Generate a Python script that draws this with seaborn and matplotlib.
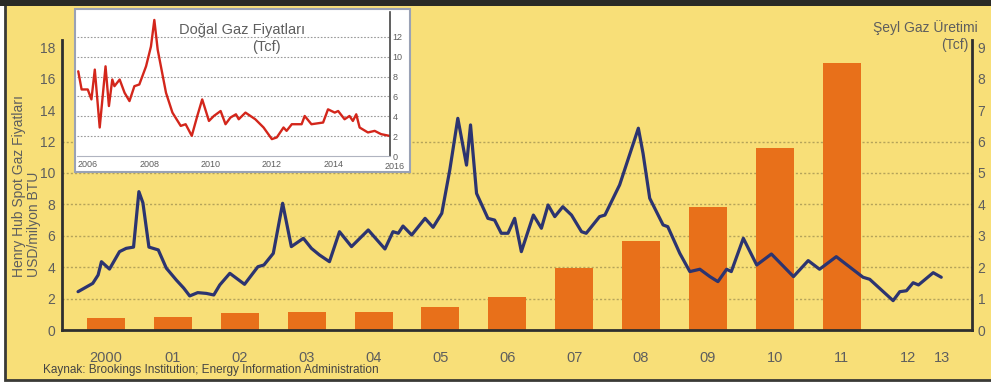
import matplotlib
matplotlib.use('Agg')
import matplotlib.pyplot as plt
from matplotlib.patches import Rectangle
import pandas as pd
import seaborn as sns

# Henry Hub spot fiyatı (USD/milyon BTU) - grafikten okunan noktalar
hh_yil = [2000.08, 2000.30, 2000.38, 2000.43, 2000.55, 2000.70, 2000.80, 2000.91, 2000.99, 2001.05,
          2001.14, 2001.28, 2001.40, 2001.55, 2001.66, 2001.75, 2001.87, 2002.00, 2002.11, 2002.20,
          2002.35, 2002.57, 2002.77, 2002.86, 2003.00, 2003.14, 2003.27, 2003.45, 2003.57, 2003.69,
          2003.84, 2003.99, 2004.17, 2004.42, 2004.67, 2004.79, 2004.87, 2004.94, 2005.07, 2005.27,
          2005.39, 2005.52, 2005.64, 2005.76, 2005.89, 2005.95, 2006.04, 2006.21, 2006.31, 2006.41,
          2006.51, 2006.61, 2006.71, 2006.89, 2007.01, 2007.11, 2007.21, 2007.33, 2007.46, 2007.61,
          2007.68, 2007.88, 2007.96, 2008.18, 2008.46, 2008.53, 2008.63, 2008.83, 2008.90, 2009.08,
          2009.23, 2009.38, 2009.53, 2009.65, 2009.78, 2009.85, 2010.03, 2010.23, 2010.45, 2010.78,
          2011.00, 2011.17, 2011.42, 2011.82, 2011.92, 2012.27, 2012.37, 2012.47, 2012.57, 2012.65,
          2012.87, 2012.99]
hh_fiyat = [2.44, 2.97, 3.50, 4.35, 3.88, 4.99, 5.20, 5.28, 8.81, 8.10,
            5.28, 5.10, 3.94, 3.18, 2.67, 2.17, 2.38, 2.33, 2.23, 2.87,
            3.61, 2.91, 4.03, 4.14, 4.88, 8.07, 5.31, 5.84, 5.20, 4.78,
            4.35, 6.26, 5.31, 6.37, 5.16, 6.26, 6.16, 6.62, 6.05, 7.11,
            6.54, 7.43, 10.2, 13.48, 10.5, 13.06, 8.70, 7.11, 7.00, 6.16,
            6.16, 7.11, 4.99, 7.32, 6.48, 7.96, 7.22, 7.85, 7.32, 6.26,
            6.16, 7.22, 7.32, 9.24, 12.85, 11.25, 8.39, 6.69, 6.58, 4.88,
            3.72, 3.87, 3.40, 3.08, 3.87, 3.72, 5.84, 4.14, 4.84, 3.40,
            4.42, 3.87, 4.67, 3.36, 3.23, 1.87, 2.44, 2.50, 3.01, 2.87,
            3.65, 3.36]

# Şeyl gaz üretimi (Tcf)
uretim_yil = [2000, 2001, 2002, 2003, 2004, 2005, 2006, 2007, 2008, 2009, 2010, 2011]
uretim_tcf = [0.38, 0.41, 0.54, 0.57, 0.56, 0.73, 1.05, 1.97, 2.83, 3.92, 5.80, 8.50]

# İç grafik: doğal gaz fiyatları
ic_yil = [2005.69, 2005.80, 2006.00, 2006.12, 2006.23, 2006.39, 2006.58, 2006.69, 2006.80, 2006.87,
          2007.04, 2007.20, 2007.36, 2007.52, 2007.68, 2007.90, 2008.06, 2008.17, 2008.28, 2008.55,
          2008.76, 2009.03, 2009.19, 2009.39, 2009.57, 2009.73, 2009.95, 2010.11, 2010.33, 2010.49,
          2010.65, 2010.83, 2010.92, 2011.14, 2011.46, 2011.73, 2012.00, 2012.16, 2012.38, 2012.48,
          2012.65, 2012.97, 2013.07, 2013.29, 2013.67, 2013.83, 2014.05, 2014.16, 2014.37, 2014.53,
          2014.64, 2014.75, 2014.86, 2015.13, 2015.35, 2015.56, 2015.83]
ic_deger = [8.53, 6.70, 6.70, 5.70, 8.70, 2.87, 9.03, 5.03, 7.70, 7.03,
            7.70, 6.37, 5.53, 7.03, 7.20, 9.03, 11.03, 13.70, 10.70, 6.37,
            4.37, 3.03, 3.20, 2.03, 4.03, 5.70, 3.53, 4.03, 4.53, 3.20,
            3.87, 4.20, 3.70, 4.37, 3.70, 2.87, 1.70, 1.87, 2.87, 2.53,
            3.20, 3.20, 4.03, 3.20, 3.37, 4.70, 4.37, 4.53, 3.70, 4.03,
            3.53, 4.20, 2.87, 2.37, 2.53, 2.20, 2.03]

yil_etiket = ['2000', '01', '02', '03', '04', '05', '06', '07', '08', '09', '10', '11', '12']
ic_etiket = ['2006', '2008', '2010', '2012', '2014']

SARI = '#f8df78'
TURUNCU = '#e8701a'
LACIVERT = '#2c3470'
KIRMIZI = '#d3261b'
GRI = '#5e5e5e'
KOYU = '#2f2f2f'

sns.set_style('white')
plt.rcParams['font.family'] = ['Liberation Sans', 'DejaVu Sans']

W, H = 991, 384
fig = plt.figure(figsize=(W / 100, H / 100), dpi=100, facecolor='white')

# sarı zemin ve çerçeve
fig.add_artist(Rectangle((5 / W, 4 / H), 1.0, 377 / H, transform=fig.transFigure,
                         facecolor=SARI, edgecolor='#3a3a36', lw=2, zorder=-10))
fig.add_artist(Rectangle((0, 378 / H), 1, 6 / H, transform=fig.transFigure,
                         facecolor='#2a2a26', edgecolor='none', zorder=-9))

ax = fig.add_axes([62 / W, 54 / H, 910 / W, 290.5 / H])
ax2 = ax.twinx()
ax.set_zorder(ax2.get_zorder() + 1)
ax.patch.set_visible(False)
ax2.patch.set_visible(False)

# bar: şeyl gaz üretimi (sağ eksen)
bar_df = pd.DataFrame({'yil': [y + 0.5 for y in uretim_yil], 'tcf': uretim_tcf})
sns.barplot(data=bar_df, x='yil', y='tcf', native_scale=True, width=0.57, color=TURUNCU,
            saturation=1, linewidth=0, ax=ax2)

# çizgi: Henry Hub fiyatı (sol eksen)
hh_df = pd.DataFrame({'yil': hh_yil, 'fiyat': hh_fiyat})
sns.lineplot(data=hh_df, x='yil', y='fiyat', color=LACIVERT, lw=2.3, ax=ax)

ax.set_xlim(1999.84, 2013.45)
ax.set_ylim(0, 18.5)
ax2.set_ylim(0, 9.25)
ax.set_xlabel('')
ax.set_ylabel('')
ax2.set_ylabel('')

ax.set_xticks(range(2000, 2014))
ax.set_xticklabels([''] * 13 + ['13'])
ax.set_xticks([y + 0.5 for y in range(2000, 2013)], minor=True)
ax.set_xticklabels(yil_etiket, minor=True)
ax.tick_params(axis='x', which='major', direction='out', length=6, width=1.2, color=KOYU,
               pad=9, labelsize=10.5, labelcolor=GRI)
ax.tick_params(axis='x', which='minor', length=0, pad=15, labelsize=10.5, labelcolor=GRI)

ax.set_yticks(range(0, 19, 2))
ax.tick_params(axis='y', length=0, pad=5, labelsize=10, labelcolor=GRI)
ax2.set_yticks(range(0, 10))
ax2.tick_params(axis='y', length=0, pad=4, labelsize=10, labelcolor=GRI)

for s in ['top', 'right']:
    ax.spines[s].set_visible(False)
for s in ['left', 'bottom']:
    ax.spines[s].set_linewidth(2)
    ax.spines[s].set_color(KOYU)
for s in ['top', 'left', 'bottom']:
    ax2.spines[s].set_visible(False)
ax2.spines['right'].set_linewidth(2)
ax2.spines['right'].set_color(KOYU)

# noktalı yatay ızgara
ax2.set_axisbelow(True)
ax2.yaxis.grid(True, linestyle=(0, (1.5, 1.5)), color='#b5a35a', lw=1)
for i, gl in enumerate(ax2.get_ygridlines()):
    gl.set_visible(1 <= i <= 6)

# eksen yazıları
fig.text(19 / W, (H - 277) / H, 'Henry Hub Spot Gaz Fiyatları', rotation=90,
         ha='center', va='bottom', fontsize=10, color=GRI)
fig.text(34 / W, (H - 277) / H, 'USD/milyon BTU', rotation=90,
         ha='center', va='bottom', fontsize=10, color=GRI)
fig.text(978 / W, (H - 28) / H, 'Şeyl Gaz Üretimi', ha='right', va='center',
         fontsize=10, color=GRI)
fig.text(968 / W, (H - 45) / H, '(Tcf)', ha='right', va='center', fontsize=10, color=GRI)
fig.text(43 / W, (H - 370) / H,
         'Kaynak: Brookings Institution; Energy Information Administration',
         ha='left', va='center', fontsize=8.5, color='#444444')

# iç grafik
fig.add_artist(Rectangle((75 / W, 212 / H), 335 / W, 163 / H, transform=fig.transFigure,
                         facecolor='white', edgecolor='#9aa2b5', lw=1.5, zorder=5))
ins = fig.add_axes([77 / W, 228 / H, 313 / W, 144 / H])
ins.set_zorder(6)
ins.patch.set_visible(False)
ic_df = pd.DataFrame({'yil': ic_yil, 'deger': ic_deger})
sns.lineplot(data=ic_df, x='yil', y='deger', color=KIRMIZI, lw=1.7, ax=ins)
ins.set_xlim(2005.65, 2015.85)
ins.set_ylim(0, 14.5)
ins.set_xlabel('')
ins.set_ylabel('')
ins.yaxis.tick_right()
ins.set_yticks(range(0, 13, 2))
ins.set_xticks([2006, 2008, 2010, 2012, 2014])
ins.set_xticklabels(ic_etiket)
ins.tick_params(axis='both', length=0, pad=2, labelsize=6.5, labelcolor=GRI)
ins.tick_params(axis='x', pad=3)
ins.annotate('2016', xy=(2016, 0), xycoords=('data', 'axes fraction'), xytext=(0, -4.5),
             textcoords='offset points', ha='center', va='top', fontsize=6.5, color=GRI,
             annotation_clip=False)
for s in ['top', 'left']:
    ins.spines[s].set_visible(False)
ins.spines['bottom'].set_color('#b0b4c0')
ins.spines['right'].set_color('#444444')
ins.spines['right'].set_linewidth(1.2)
ins.set_axisbelow(True)
ins.yaxis.grid(True, linestyle=(0, (1.5, 1.5)), color='#9a9a9a', lw=0.8)
for i, gl in enumerate(ins.get_ygridlines()):
    gl.set_visible(i >= 1)

fig.text(242 / W, (H - 30) / H, 'Doğal Gaz Fiyatları', ha='center', va='center',
         fontsize=10.5, color=GRI, zorder=7)
fig.text(266 / W, (H - 47) / H, '(Tcf)', ha='center', va='center',
         fontsize=10.5, color=GRI, zorder=7)

fig.savefig('out.png', dpi=100, facecolor=fig.get_facecolor())
